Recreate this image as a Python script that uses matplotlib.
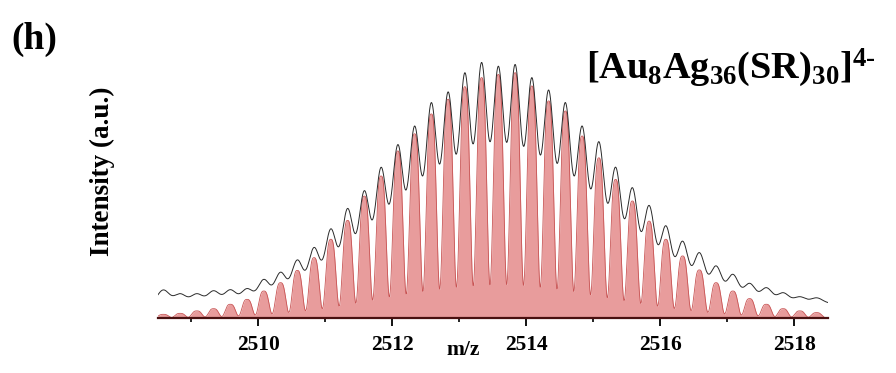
import matplotlib
matplotlib.use('Agg')
import matplotlib.pyplot as plt
import numpy as np

plt.rcParams['font.family'] = ['Liberation Serif', 'DejaVu Serif']
plt.rcParams['font.weight'] = 'bold'
plt.rcParams['mathtext.fontset'] = 'custom'
plt.rcParams['mathtext.rm'] = 'Liberation Serif:bold'
plt.rcParams['mathtext.bf'] = 'Liberation Serif:bold'
plt.rcParams['mathtext.it'] = 'Liberation Serif:bold'

# isotope peak positions (m/z), 4- charge state
mz_peaks = [2508.58, 2508.83, 2509.08, 2509.33, 2509.58, 2509.83, 2510.08, 2510.33,
            2510.58, 2510.83, 2511.08, 2511.33, 2511.58, 2511.83, 2512.08, 2512.33,
            2512.58, 2512.83, 2513.08, 2513.33, 2513.58, 2513.83, 2514.08, 2514.33,
            2514.58, 2514.83, 2515.08, 2515.33, 2515.58, 2515.83, 2516.08, 2516.33,
            2516.58, 2516.83, 2517.08, 2517.33, 2517.58, 2517.83, 2518.08, 2518.33]

# simulated isotope pattern (relative intensity, %)
calc_int = [1.5, 1.9, 2.9, 3.8, 5.6, 7.6, 11.0, 14.4, 19.4, 24.6,
            32.1, 39.8, 49.7, 57.9, 68.1, 75.1, 83.2, 89.2, 94.3, 98.0,
            99.3, 100.0, 94.6, 88.5, 84.4, 74.2, 65.3, 56.5, 47.7, 39.5,
            32.1, 25.3, 19.6, 14.4, 11.0, 7.9, 5.6, 3.8, 2.9, 2.2]

# experimental peak tops (relative intensity, %)
exp_int = [11.4, 9.8, 9.8, 11.0, 11.4, 11.8, 15.5, 18.3, 23.2, 28.1,
           35.5, 43.6, 50.6, 59.9, 68.9, 76.2, 85.6, 89.7, 97.4, 101.5,
           99.9, 100.7, 95.4, 90.5, 85.6, 76.2, 70.1, 59.9, 51.8, 44.8,
           36.7, 30.6, 26.1, 20.8, 17.5, 13.9, 12.2, 10.2, 8.6, 8.2]
exp_base = 6.0

xmin, xmax = 2508.5, 2518.5
w_calc, p_calc = 0.090, 3.0   # simulated peak shape
sig_exp = 0.086               # experimental peak width

xs = np.linspace(xmin, xmax, 6000)
calc = np.zeros_like(xs)
expt = np.full_like(xs, exp_base)
for m, hc, he in zip(mz_peaks, calc_int, exp_int):
    calc += hc * np.exp(-np.abs((xs - m) / w_calc) ** p_calc)
    expt += (he - exp_base) * np.exp(-(xs - m) ** 2 / (2 * sig_exp ** 2))

fig = plt.figure(figsize=(8.96, 3.73), dpi=100)
ax = fig.add_axes([158 / 896, 55 / 373, 670 / 896, 258 / 373])

ax.fill_between(xs, 0, calc, color='#e89c9c', lw=0, zorder=2)
ax.plot(xs, calc, color='#c85454', lw=0.6, zorder=3)
ax.plot(xs, expt, color='#2a2a2a', lw=0.7, zorder=4)

ax.set_xlim(xmin, xmax)
ax.set_ylim(0, 105.2)

for s in ['top', 'left', 'right']:
    ax.spines[s].set_visible(False)
ax.spines['bottom'].set_color('#4a1010')
ax.spines['bottom'].set_linewidth(1.6)
ax.spines['bottom'].set_zorder(5)

ax.set_yticks([])
ax.set_xticks([2510, 2512, 2514, 2516, 2518])
ax.set_xticks([2509, 2511, 2513, 2515, 2517], minor=True)
ax.tick_params(axis='x', which='major', direction='out', length=6, width=1.3,
               pad=6, labelsize=15.5)
ax.tick_params(axis='x', which='minor', direction='out', length=3, width=1.2)
for lab in ax.get_xticklabels():
    lab.set_fontweight('bold')

ax.set_xlabel('m/z', fontsize=15.5, fontweight='bold')
ax.xaxis.set_label_coords(0.455, -0.085)

fig.text(102 / 896, 1 - 171 / 373, 'Intensity (a.u.)', rotation=90, fontsize=19.5,
         fontweight='bold', ha='center', va='center')
fig.text(11 / 896, 1 - 39 / 373, '(h)', fontsize=27, fontweight='bold',
         ha='left', va='center')
fig.text(586 / 896, 1 - 68 / 373, '$\\mathbf{[Au_8Ag_{36}(SR)_{30}]^{4\u2010}}$',
         fontsize=27.5, ha='left', va='center')

fig.savefig('out.png', dpi=100)
